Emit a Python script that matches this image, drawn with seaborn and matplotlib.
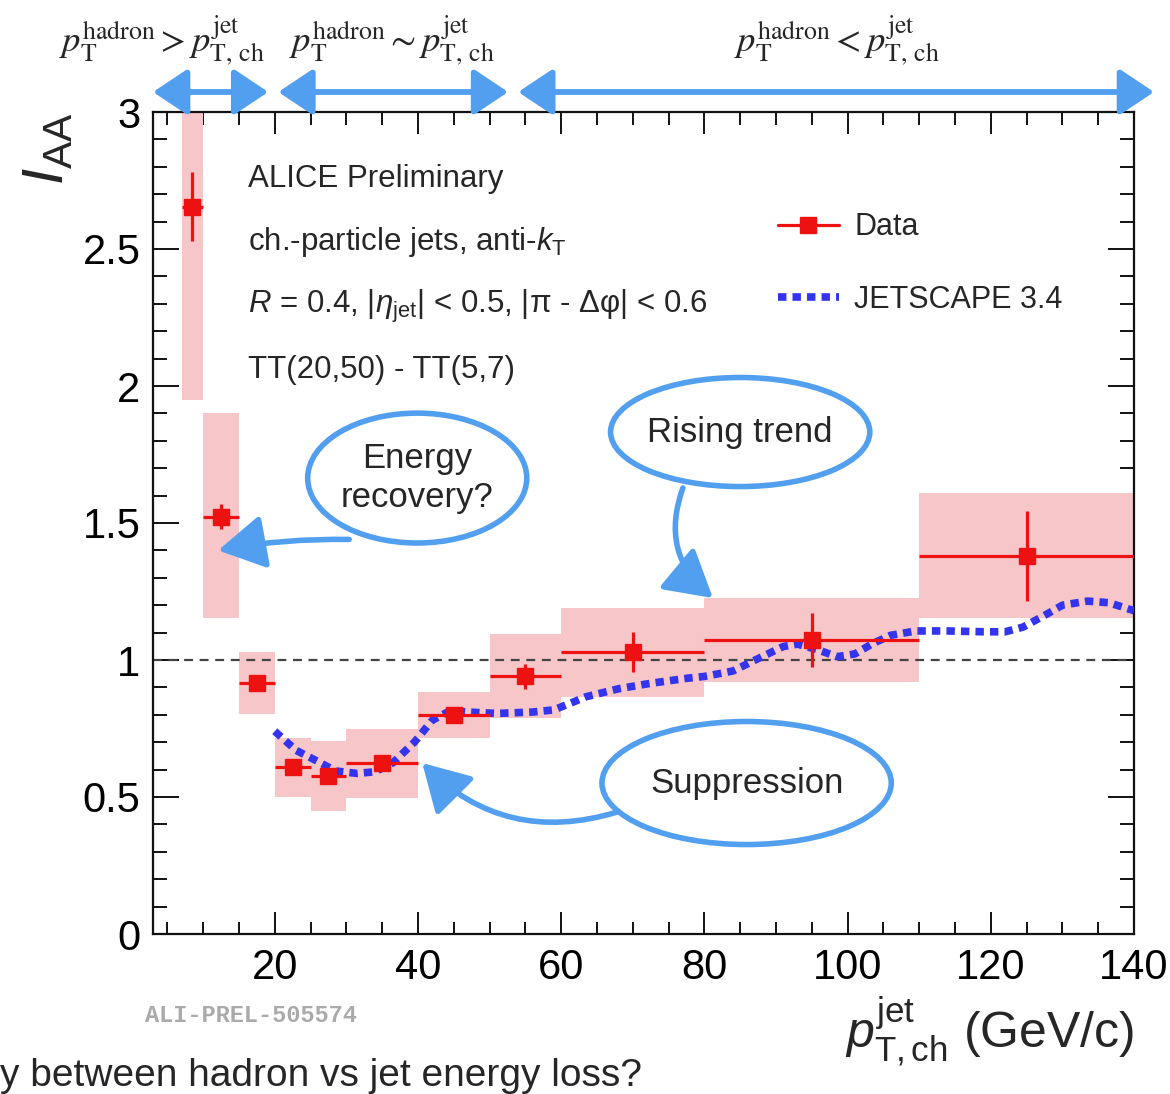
import numpy as np
import matplotlib
matplotlib.use('Agg')
import matplotlib.pyplot as plt
import seaborn as sns
from matplotlib.patches import Ellipse, FancyArrowPatch
from matplotlib.lines import Line2D
from matplotlib.ticker import MultipleLocator, FixedLocator, FixedFormatter

# ---------------- data ----------------
bin_lo = [7, 10, 15, 20, 25, 30, 40, 50, 60, 80, 110]
bin_hi = [10, 15, 20, 25, 30, 40, 50, 60, 80, 110, 140]
pt_center = [8.5, 12.5, 17.5, 22.5, 27.5, 35, 45, 55, 70, 95, 125]
iaa = [2.655, 1.523, 0.917, 0.61, 0.577, 0.623, 0.80, 0.94, 1.028, 1.073, 1.38]
stat_err = [0.125, 0.045, 0.02, 0.02, 0.02, 0.02, 0.02, 0.045, 0.073, 0.099, 0.165]
syst_lo = [1.95, 1.152, 0.803, 0.501, 0.45, 0.495, 0.716, 0.787, 0.866, 0.921, 1.152]
syst_hi = [3.2, 1.90, 1.028, 0.714, 0.705, 0.747, 0.884, 1.095, 1.189, 1.225, 1.61]

js_pt = [20, 23, 26, 28.5, 31.5, 34, 36.5, 39.5, 42, 44.5, 47, 51, 56, 59, 63.5,
         68, 72.5, 77.5, 80, 84, 87.5, 91, 93, 96, 98.5, 101, 103.5, 106, 109.5,
         114, 119, 122, 124.5, 128, 130, 133.5, 136.5, 140]
js_iaa = [0.74, 0.67, 0.63, 0.595, 0.586, 0.592, 0.625, 0.70, 0.78, 0.815, 0.81,
          0.805, 0.81, 0.818, 0.866, 0.895, 0.915, 0.933, 0.94, 0.96, 1.005, 1.049,
          1.058, 1.036, 1.012, 1.022, 1.06, 1.09, 1.106, 1.106, 1.103, 1.103, 1.12,
          1.17, 1.20, 1.215, 1.209, 1.18]

x_ticks = [20, 40, 60, 80, 100, 120, 140]
x_tick_labels = ['20', '40', '60', '80', '100', '120', '140']
y_ticks = [0, 0.5, 1, 1.5, 2, 2.5, 3]
y_tick_labels = ['0', '0.5', '1', '1.5', '2', '2.5', '3']

legend_labels = ['Data', 'JETSCAPE 3.4']
info_lines = ['ALICE Preliminary',
              r'ch.-particle jets, anti-$k_{\rm T}$',
              r'$R$ = 0.4, $|\eta_{\rm jet}|$ < 0.5, |π - Δφ| < 0.6',
              'TT(20,50) - TT(5,7)']
regime_labels = [r'$p_{\rm T}^{\rm hadron} > p_{\rm T,\,ch}^{\rm jet}$',
                 r'$p_{\rm T}^{\rm hadron} \sim p_{\rm T,\,ch}^{\rm jet}$',
                 r'$p_{\rm T}^{\rm hadron} < p_{\rm T,\,ch}^{\rm jet}$']

# ---------------- style ----------------
sns.set_theme(style='ticks')
plt.rcParams['font.family'] = ['Liberation Sans', 'DejaVu Sans']
plt.rcParams['mathtext.fontset'] = 'custom'
plt.rcParams['mathtext.rm'] = 'Liberation Sans'
plt.rcParams['mathtext.it'] = 'Liberation Sans:italic'
plt.rcParams['mathtext.bf'] = 'Liberation Sans:bold'

RED = '#ee1111'
PINK = '#f7c6c9'
BLUE = '#3434ee'
ANN = '#529ff0'

fig = plt.figure(figsize=(11.7, 10.94), dpi=100)
ax = fig.add_axes([153 / 1170, 1 - 934 / 1094, (1134 - 153) / 1170, (934 - 112) / 1094])

# systematic boxes
ax.bar(x=bin_lo, height=np.subtract(syst_hi, syst_lo), bottom=syst_lo,
       width=np.subtract(bin_hi, bin_lo), align='edge', color=PINK,
       edgecolor='none', zorder=1)

ax.axhline(1.0, color='#444444', lw=1.6, ls=(0, (4, 3)), zorder=2)

# model curve
sns.lineplot(x=js_pt, y=js_iaa, ax=ax, color=BLUE, lw=5.5,
             linestyle=(0, (1.1, 0.8)), dash_capstyle='butt', zorder=4,
             legend=False)

# data points
xerr = [np.subtract(pt_center, bin_lo), np.subtract(bin_hi, pt_center)]
ax.errorbar(pt_center, iaa, xerr=xerr, yerr=stat_err, fmt='s', color=RED,
            ms=12, elinewidth=2.3, capsize=0, zorder=5)

ax.set_xlim(3, 140)
ax.set_ylim(0, 3)

ax.xaxis.set_major_locator(FixedLocator(x_ticks))
ax.xaxis.set_major_formatter(FixedFormatter(x_tick_labels))
ax.xaxis.set_minor_locator(MultipleLocator(5))
ax.yaxis.set_major_locator(FixedLocator(y_ticks))
ax.yaxis.set_major_formatter(FixedFormatter(y_tick_labels))
ax.yaxis.set_minor_locator(MultipleLocator(0.1))

ax.tick_params(which='both', direction='in', top=True, right=True, width=1.4,
               color='#111111', labelsize=30, labelcolor='black')
ax.tick_params(axis='y', which='major', length=19, pad=9)
ax.tick_params(axis='y', which='minor', length=10)
ax.tick_params(axis='x', which='major', length=16, pad=10)
ax.tick_params(axis='x', which='minor', length=9)
for s in ax.spines.values():
    s.set_linewidth(1.6)
    s.set_color('#111111')
ax.grid(False)

ax.set_ylabel(r'$I_{\rm AA}$', fontsize=42, loc='top')
ax.yaxis.set_label_coords(-0.08, 1.0)
ax.set_xlabel(r'$p_{\rm T,ch}^{\rm jet}$ (GeV/c)', fontsize=36, loc='right')
ax.xaxis.set_label_coords(1.0, -0.075)

# info text
baselines = [2.727, 2.496, 2.268, 2.028]
for txt, yb in zip(info_lines, baselines):
    ax.text(16.3, yb, txt, fontsize=22.5, va='baseline', ha='left', zorder=6)

# legend
handles = [Line2D([], [], color=RED, lw=2.3, marker='s', ms=12),
           Line2D([], [], color=BLUE, lw=5.5, linestyle=(0, (1.1, 0.8)),
                  dash_capstyle='butt')]
ax.legend(handles=handles, labels=legend_labels, loc='upper left',
          bbox_to_anchor=(0.637, 0.878), frameon=False, fontsize=22,
          handlelength=2.0, handletextpad=0.5, labelspacing=1.4,
          borderpad=0, borderaxespad=0)

# top regime arrows
arrow_y = 3.073
for xa, xb in [(3.0, 19.1), (20.5, 52.6), (54.0, 142.8)]:
    arr = FancyArrowPatch((xa, arrow_y), (xb, arrow_y),
                          arrowstyle='<|-|>,head_length=1.05,head_width=0.7',
                          mutation_scale=20, color=ANN, lw=4.2,
                          shrinkA=0, shrinkB=0, clip_on=False, zorder=7)
    ax.add_patch(arr)
for txt, xc in zip(regime_labels, [4.2, 36.4, 98.5]):
    ax.text(xc, 3.262, txt, fontsize=26.5, ha='center', va='center',
            math_fontfamily='stix', clip_on=False)

# annotations: ellipses + arrows
ell_specs = [((39.9, 1.664), 30.6, 0.474, 'Energy\nrecovery?'),
             ((85.0, 1.832), 36.2, 0.398, 'Rising trend'),
             ((85.9, 0.551), 40.4, 0.449, 'Suppression')]
for (cx, cy), w, h, txt in ell_specs:
    ax.add_patch(Ellipse((cx, cy), w, h, fill=False, edgecolor=ANN, lw=4.0,
                         zorder=6))
    ax.text(cx, cy, txt, fontsize=25, ha='center', va='center',
            linespacing=1.25, zorder=7)

arrow_specs = [((30.4, 1.44), (12.1, 1.40), 'arc3,rad=0.05'),
               ((77.0, 1.628), (81.2, 1.226), 'arc3,rad=0.35'),
               ((67.8, 0.445), (40.6, 0.624), 'arc3,rad=-0.3')]
for tail, tip, cs in arrow_specs:
    ax.annotate('', xy=tip, xytext=tail,
                arrowprops=dict(arrowstyle='-|>,head_length=1.3,head_width=0.75',
                                mutation_scale=22, color=ANN, lw=4.0,
                                shrinkA=0, shrinkB=0, connectionstyle=cs),
                zorder=7)

# footer texts
fig.text(145 / 1170, 1 - 1015 / 1094, 'ALI-PREL-505574', fontsize=17,
         family=['Liberation Mono', 'DejaVu Sans Mono'], fontweight='bold',
         color='#aaaaaa', ha='left', va='center')
fig.text(0.0, 1 - 1086 / 1094, 'y between hadron vs jet energy loss?',
         fontsize=28, ha='left', va='baseline')

fig.savefig('out.png', dpi=100)
